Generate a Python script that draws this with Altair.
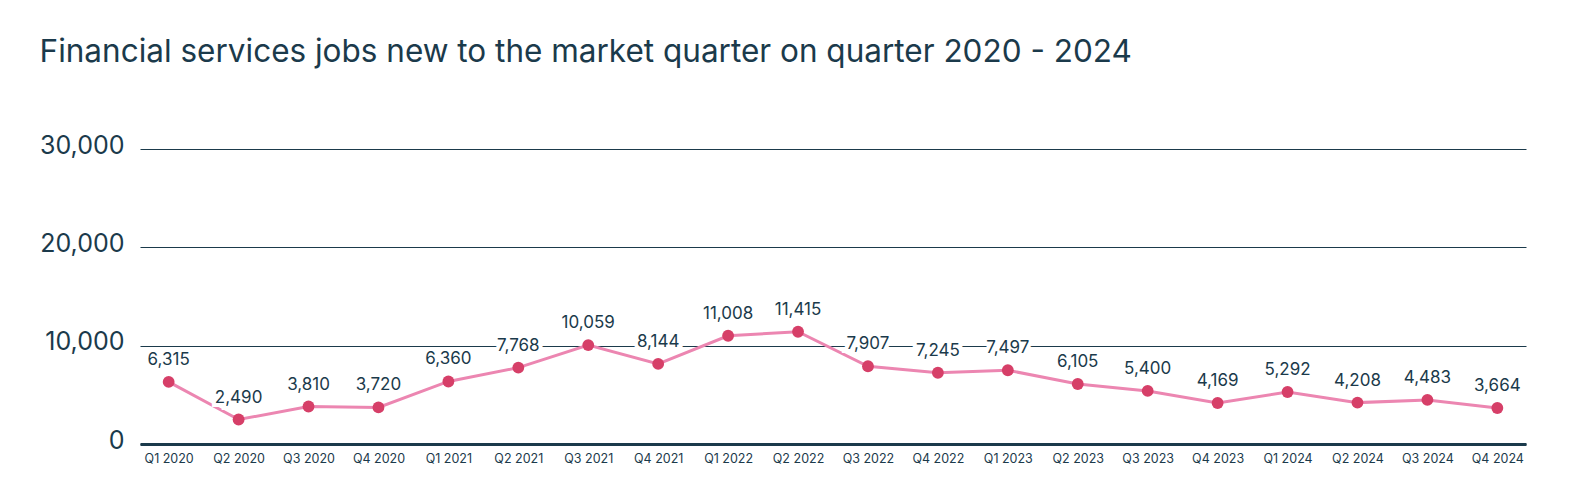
import altair as alt
import pandas as pd

quarters = ["Q1 2020", "Q2 2020", "Q3 2020", "Q4 2020",
            "Q1 2021", "Q2 2021", "Q3 2021", "Q4 2021",
            "Q1 2022", "Q2 2022", "Q3 2022", "Q4 2022",
            "Q1 2023", "Q2 2023", "Q3 2023", "Q4 2023",
            "Q1 2024", "Q2 2024", "Q3 2024", "Q4 2024"]
jobs = [6315, 2490, 3810, 3720,
        6360, 7768, 10059, 8144,
        11008, 11415, 7907, 7245,
        7497, 6105, 5400, 4169,
        5292, 4208, 4483, 3664]

df = pd.DataFrame({"quarter": quarters, "jobs": jobs})

DARK = "#1b3a4b"
FONT = "Inter"

x = alt.X("quarter:N", sort=quarters, title=None,
          scale=alt.Scale(type="point", padding=0.41),
          axis=alt.Axis(labelAngle=0, labelFontSize=12.5, labelColor=DARK, labelFont=FONT,
                        ticks=False, domainColor=DARK, domainWidth=3, labelPadding=8,
                        grid=False))
y = alt.Y("jobs:Q", title=None,
          scale=alt.Scale(domain=[0, 30000], nice=False),
          axis=alt.Axis(values=[0, 10000, 20000, 30000], format=",d", labelFontSize=25,
                        labelColor=DARK, labelFont=FONT, labelPadding=16, ticks=False,
                        domain=False, gridColor=DARK, gridWidth=1, gridOpacity=1,
                        labelOffset=-4))

base = alt.Chart(df).encode(x=x, y=y)

line = base.mark_line(color="#ec86b1", strokeWidth=3)
pts = base.mark_circle(color="#d63f68", size=140, opacity=1)
halo = base.mark_text(dy=-22, fontSize=17, font=FONT, stroke="white", strokeWidth=8,
                      color="white").encode(text=alt.Text("jobs:Q", format=",d"))
txt = base.mark_text(dy=-22, fontSize=17, font=FONT, color=DARK).encode(
    text=alt.Text("jobs:Q", format=",d"))

chart = alt.layer(line, halo, txt, pts).properties(
    width=1386, height=295,
    title=alt.TitleParams("Financial services jobs new to the market quarter on quarter 2020 - 2024",
                          anchor="start", dx=0, offset=65, fontSize=31.5, font=FONT,
                          fontWeight="normal", color=DARK),
    autosize=alt.AutoSizeParams(type="none"),
    padding={"left": 132, "top": 141, "right": 30, "bottom": 40},
).configure_view(stroke=None)

chart.save("out.html", embed_options={"renderer": "svg", "actions": False})
